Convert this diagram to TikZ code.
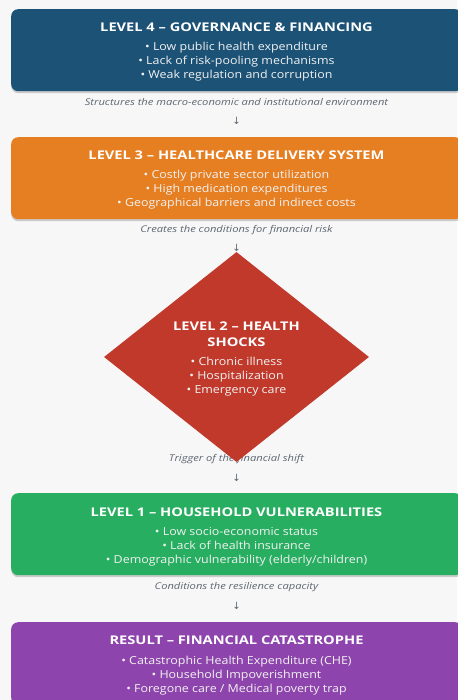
\documentclass[tikz,border=0pt]{standalone}
\usepackage{fontspec}
\setmainfont{Open Sans}[FakeStretch=1.13]
\newfontfamily\titlefont{Open Sans}[FakeStretch=1.22]
\newfontfamily\capfont{Open Sans}[FakeStretch=1.2]
\newfontfamily\arrowfont{DejaVu Sans}
\usetikzlibrary{shadows,shapes.geometric}

\definecolor{bgc}{HTML}{F7F7F7}
\definecolor{govc}{HTML}{1B5276}
\definecolor{delc}{HTML}{E67E22}
\definecolor{shockc}{HTML}{C0392B}
\definecolor{housec}{HTML}{27AE60}
\definecolor{resc}{HTML}{8E44AD}
\definecolor{capc}{HTML}{5D6670}
\definecolor{bulc}{HTML}{F2F2F2}

\tikzset{
  levelbox/.style={rectangle, rounded corners=7pt, minimum width=451pt,
    minimum height=82pt, inner sep=0pt, anchor=north west,
    drop shadow={shadow xshift=0pt, shadow yshift=-2pt, opacity=0.18, fill=black}},
  boxtext/.style={text=bulc, align=center, inner sep=0pt,
    font=\fontsize{11}{14}\selectfont},
  caption/.style={text=capc, inner sep=0pt,
    font=\capfont\fontsize{9.3}{10}\selectfont\itshape},
  downarrow/.style={text=capc, inner sep=0pt,
    font=\fontsize{10}{10}\selectfont\arrowfont},
}
\newcommand{\boxtitle}[1]{{\color{white}\titlefont\fontsize{12}{14}\selectfont\bfseries #1}}

\begin{document}
\begin{tikzpicture}[x=1pt, y=-1pt]
  \useasboundingbox (0,0) rectangle (457,700);
  \fill[bgc] (0,0) rectangle (457,700);

  % Level 4
  \node[levelbox, fill=govc] (gov) at (11,9) {};
  \node[boxtext] (govtxt) at (236.5,52) {\boxtitle{LEVEL 4 – GOVERNANCE \& FINANCING}\\[5.5pt]
    • Low public health expenditure\\ • Lack of risk-pooling mechanisms\\ • Weak regulation and corruption};
  \node[caption] (cap4) at (236.5,102) {Structures the macro-economic and institutional environment};
  \node[downarrow] (arr4) at (236.5,121) {↓};

  % Level 3
  \node[levelbox, fill=delc] (del) at (11,137) {};
  \node[boxtext] (deltxt) at (236.5,180) {\boxtitle{LEVEL 3 – HEALTHCARE DELIVERY SYSTEM}\\[5.5pt]
    • Costly private sector utilization\\ • High medication expenditures\\ • Geographical barriers and indirect costs};
  \node[caption] (cap3) at (236.5,230) {Creates the conditions for financial risk};
  \node[downarrow] (arr3) at (236.5,248) {↓};

  % Level 2 (drawn over the caption beneath it)
  \node[caption] (cap2) at (236.5,459) {Trigger of the financial shift};
  \node[diamond, fill=shockc, minimum width=265pt, minimum height=210pt,
        inner sep=0pt, aspect=1.26] (shock) at (236.5,357) {};
  \node[boxtext] (shocktxt) at (236.5,359) {\boxtitle{LEVEL 2 – HEALTH}\\[2pt]
    \boxtitle{SHOCKS}\\[5.5pt]
    • Chronic illness\\ • Hospitalization\\ • Emergency care};
  \node[downarrow] (arr2) at (236.5,478) {↓};

  % Level 1
  \node[levelbox, fill=housec] (house) at (11,493) {};
  \node[boxtext] (housetxt) at (236.5,537) {\boxtitle{LEVEL 1 – HOUSEHOLD VULNERABILITIES}\\[5.5pt]
    • Low socio-economic status\\ • Lack of health insurance\\ • Demographic vulnerability (elderly/children)};
  \node[caption] (cap1) at (236.5,587) {Conditions the resilience capacity};
  \node[downarrow] (arr1) at (236.5,606) {↓};

  % Result
  \node[levelbox, fill=resc] (res) at (11,622) {};
  \node[boxtext] (restxt) at (236.5,665.5) {\boxtitle{RESULT – FINANCIAL CATASTROPHE}\\[5.5pt]
    • Catastrophic Health Expenditure (CHE)\\ • Household Impoverishment\\ • Foregone care / Medical poverty trap};
\end{tikzpicture}
\end{document}
